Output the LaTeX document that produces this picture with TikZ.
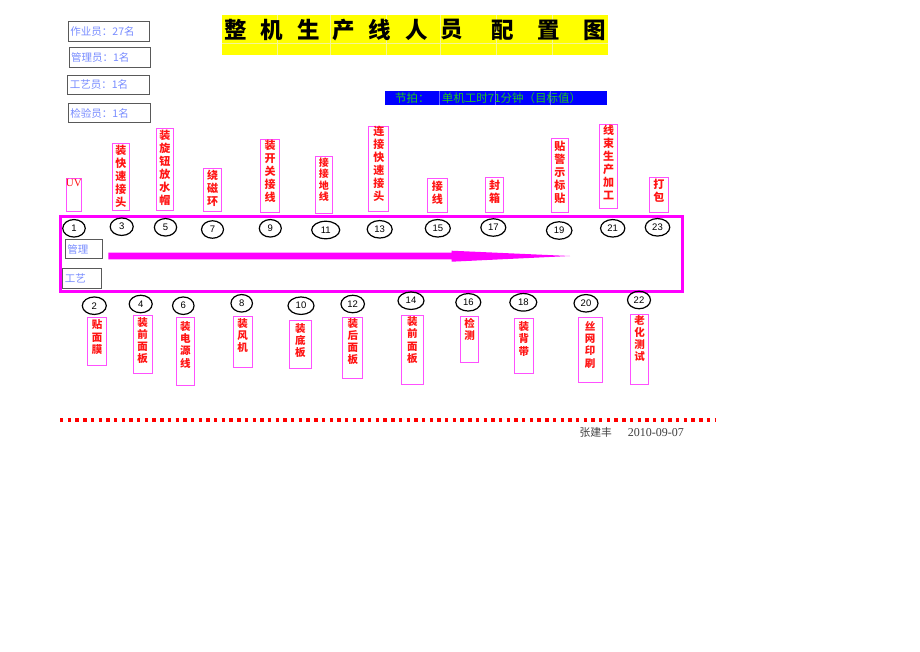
\documentclass[tikz,border=0pt]{standalone}
\usepackage{fontspec}
\setmainfont{Liberation Serif}
\newfontfamily\cjk{Noto Sans CJK SC}
\newfontfamily\numfont{Liberation Sans}
\usetikzlibrary{shapes.geometric}
\definecolor{mag}{RGB}{255,0,255}
\definecolor{lblmag}{RGB}{255,80,255}
\definecolor{lblred}{RGB}{255,20,20}
\definecolor{infoblue}{RGB}{120,140,255}
\definecolor{barblue}{RGB}{0,0,255}
\definecolor{bargreen}{RGB}{30,200,30}
\definecolor{ttlyellow}{RGB}{255,255,0}
\definecolor{gridyel}{RGB}{245,245,150}
\newcommand\toplbl[7]{%
  \node[lblbox, minimum width={#4-#2}, minimum height={#5-#3}, anchor=north west] (#1) at (#2,#3) {};
  \node[lbltxt, anchor=north] (#1t) at ([yshift=-#7pt]#1.north) {#6};}
\newcommand\botlbl[7]{%
  \node[lblbox, minimum width={#4-#2}, minimum height={#5-#3}, anchor=north west] (#1) at (#2,#3) {};
  \node[lbltxtb, anchor=north] (#1t) at ([yshift=-#7pt]#1.north) {#6};}
\begin{document}
\begin{tikzpicture}[x=1pt,y=-1pt,
  infobox/.style={draw=black!65, line width=0.9pt, fill=white, anchor=north west,
    inner xsep=2pt, inner ysep=0pt, align=left, text=infoblue,
    font=\cjk\fontsize{10.5}{12}\selectfont},
  lblbox/.style={draw=lblmag, line width=0.9pt, inner sep=0pt},
  lbltxt/.style={inner sep=0pt, align=center, text=lblred,
    font=\cjk\bfseries\fontsize{11}{13}\selectfont},
  lbltxtb/.style={inner sep=0pt, align=center, text=lblred,
    font=\cjk\bfseries\fontsize{10.5}{12.2}\selectfont},
  circ/.style={ellipse, draw=black, line width=1.2pt, minimum height=17.5pt,
    inner sep=0pt, font=\numfont\fontsize{9.5}{10}\selectfont},
  ttl/.style={inner sep=0pt, font=\cjk\bfseries\fontsize{22.5}{24}\selectfont}]
\useasboundingbox (0,0) rectangle (920,651);
\fill[white] (0,0) rectangle (920,651);

% info boxes
\node[infobox, minimum width=81pt, minimum height=20pt, text width=77pt] (iA) at (68,21) {作业员：27名};
\node[infobox, minimum width=81pt, minimum height=20pt, text width=77pt] (iB) at (68.6,46.7) {管理员：1名};
\node[infobox, minimum width=81.5pt, minimum height=18.5pt, text width=77.5pt] (iC) at (67.3,75) {工艺员：1名};
\node[infobox, minimum width=81.5pt, minimum height=19pt, text width=77.5pt] (iD) at (68,103.3) {检验员：1名};

% title
\fill[ttlyellow] (221.7,15.3) rectangle (608.3,55.3);
\foreach \gx in {276.7,330,385.7,440,495.7,551.7}
  \draw[gridyel, line width=0.4pt] (\gx,15.3) -- (\gx,55.3);
\draw[gridyel, line width=0.4pt] (221.7,43) -- (608.3,43);
\node[ttl] (t1) at (236,30) {整};
\node[ttl] (t2) at (271.7,30) {机};
\node[ttl] (t3) at (308.3,30) {生};
\node[ttl] (t4) at (343.3,30) {产};
\node[ttl] (t5) at (379.3,30) {线};
\node[ttl] (t6) at (416.7,30) {人};
\node[ttl] (t7) at (451.7,30) {员};
\node[ttl] (t8) at (502.7,30) {配};
\node[ttl] (t9) at (548.3,30) {置};
\node[ttl] (t10) at (595,30) {图};

% takt bar
\node[fill=barblue, minimum width=222pt, minimum height=14pt, anchor=north west, inner sep=0pt] (bar) at (385,91) {};
\foreach \gx in {439,495,550}
  \draw[blue!60!white, line width=0.3pt] (\gx,91) -- (\gx,105);
\node[anchor=west, inner sep=0pt, text=bargreen, font=\cjk\fontsize{11.5}{12}\selectfont] (barA) at (395,98) {节拍：};
\node[anchor=west, inner sep=0pt, text=bargreen, font=\cjk\fontsize{11.5}{12}\selectfont] (barB) at (441.7,98) {单机工时71分钟（目标值）};

% main frame
\draw[mag, line width=3pt] (60,216) rectangle (682.3,291);
\node[infobox, minimum width=36.7pt, minimum height=19.3pt, text width=32.7pt] (mg) at (65,239) {管理};
\node[infobox, minimum width=38.4pt, minimum height=20pt, text width=34.4pt] (gy) at (62.3,268.3) {工艺};
\fill[mag] (108.3,252.7) -- (451.7,252.7) -- (451.7,250.7) -- (570,256) -- (451.7,261.7) -- (451.7,259.3) -- (108.3,259.3) -- cycle;

% top circles
\node[circ, minimum width=22.5pt] (c1) at (74,228.3) {1};
\node[circ, minimum width=23pt] (c3) at (121.7,226.7) {3};
\node[circ, minimum width=22.3pt] (c5) at (165.5,227.3) {5};
\node[circ, minimum width=22pt] (c7) at (212.5,229.5) {7};
\node[circ, minimum width=22pt] (c9) at (270.3,228.3) {9};
\node[circ, minimum width=28pt] (c11) at (325.7,230) {11};
\node[circ, minimum width=25pt] (c13) at (379.7,229.3) {13};
\node[circ, minimum width=25pt] (c15) at (437.8,228.3) {15};
\node[circ, minimum width=25pt] (c17) at (493.3,227.5) {17};
\node[circ, minimum width=25.5pt] (c19) at (559.2,230.5) {19};
\node[circ, minimum width=24.3pt] (c21) at (612.7,228.3) {21};
\node[circ, minimum width=24.5pt] (c23) at (657.5,227.3) {23};

% bottom circles
\node[circ, minimum width=24pt] (c2) at (94.3,305.7) {2};
\node[circ, minimum width=23pt] (c4) at (140.7,304) {4};
\node[circ, minimum width=21.5pt] (c6) at (183.3,305.7) {6};
\node[circ, minimum width=21.5pt] (c8) at (241.7,303.3) {8};
\node[circ, minimum width=26pt] (c10) at (301,305.7) {10};
\node[circ, minimum width=23.5pt] (c12) at (352.7,304) {12};
\node[circ, minimum width=26pt] (c14) at (411,300.7) {14};
\node[circ, minimum width=25pt] (c16) at (468.3,302.3) {16};
\node[circ, minimum width=27pt] (c18) at (523.3,302.3) {18};
\node[circ, minimum width=24pt] (c20) at (586,303.3) {20};
\node[circ, minimum width=23pt] (c22) at (639,300) {22};

% top labels
\node[lblbox, minimum width=15.3pt, minimum height=33pt, anchor=north west] (lUV) at (65.7,177.7) {};
\node[inner sep=0pt, anchor=north, text=lblred, font=\fontsize{11}{12}\selectfont] (lUVt) at ([yshift=-1.5pt]lUV.north) {UV};
\toplbl{l3}{111.7}{143.3}{129.3}{210}{装\\快\\速\\接\\头}{1.2}
\toplbl{l5}{155.7}{128.3}{173.3}{210}{装\\旋\\钮\\放\\水\\帽}{1.2}
\toplbl{l7}{203.3}{168.3}{221}{211}{绕\\磁\\环}{1.2}
\toplbl{l9}{260}{139}{279.3}{212.3}{装\\开\\关\\接\\线}{0.8}
\node[lblbox, minimum width=16.7pt, minimum height=57.3pt, anchor=north west] (l11) at (315,156) {};
\node[inner sep=0pt, align=center, anchor=north, text=lblred, font=\cjk\bfseries\fontsize{10}{11.3}\selectfont] (l11t) at ([yshift=-1.7pt]l11.north) {接\\接\\地\\线};
\toplbl{l13}{368.3}{125.7}{388.3}{211}{连\\接\\快\\速\\接\\头}{0.3}
\toplbl{l15}{426.7}{178.3}{447.3}{212.3}{接\\线}{2.2}
\toplbl{l17}{485}{177.3}{503.3}{211.7}{封\\箱}{2.2}
\toplbl{l19}{550.7}{138.3}{568.3}{212.3}{贴\\警\\示\\标\\贴}{2.6}
\toplbl{l21}{599}{124.3}{617.3}{208.3}{线\\束\\生\\产\\加\\工}{0.3}
\toplbl{l23}{648.7}{176.7}{668.3}{212.3}{打\\包}{2.6}

% bottom labels
\botlbl{b2}{87.3}{317.3}{106}{365}{贴\\面\\膜}{2.5}
\botlbl{b4}{132.7}{315}{151.7}{373.3}{装\\前\\面\\板}{2.1}
\botlbl{b6}{175.7}{317.3}{194.3}{385}{装\\电\\源\\线}{4}
\botlbl{b8}{232.7}{315.7}{251.7}{366.7}{装\\风\\机}{2.4}
\botlbl{b10}{289.3}{320}{310.7}{368.3}{装\\底\\板}{3}
\botlbl{b12}{342.3}{316.7}{362.3}{377.7}{装\\后\\面\\板}{1.4}
\botlbl{b14}{401}{315}{422.7}{384.3}{装\\前\\面\\板}{1.5}
\botlbl{b16}{460}{316}{478.3}{361.7}{检\\测}{2.1}
\botlbl{b18}{514.3}{318.3}{532.7}{373.3}{装\\背\\带}{3.2}
\botlbl{b20}{577.7}{317.3}{601.7}{382.3}{丝\\网\\印\\刷}{4}
\botlbl{b22}{630}{314.3}{648.3}{384.3}{老\\化\\测\\试}{0.6}

% dotted line and footer
\coordinate (dl) at (60,420);
\coordinate (dr) at (716,420);
\draw[red, line width=3.4pt, dash pattern=on 3.4pt off 4.3pt] (dl) -- (dr);
\node[anchor=west, inner sep=0pt, text=black!75] (ft) at (579.3,432.5)
  {{\cjk\fontsize{10.8}{12}\selectfont 张建丰}\hspace{16pt}{\fontsize{12}{13}\selectfont 2010-09-07}};
\end{tikzpicture}
\end{document}
